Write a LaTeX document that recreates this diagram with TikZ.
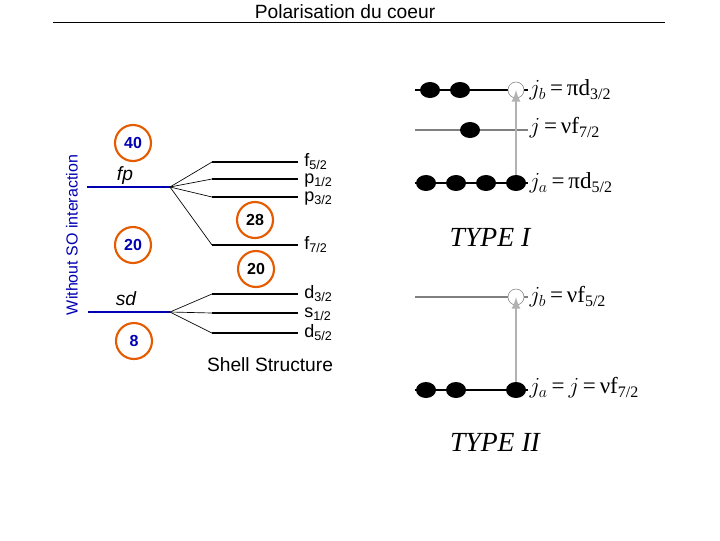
\documentclass[tikz,border=0pt]{standalone}
\usetikzlibrary{shapes.geometric}
\usepackage{fontspec}
\setmainfont{Liberation Sans}
\newfontfamily\serifx{Liberation Serif}
\begin{document}
\begin{tikzpicture}[x=0.75pt,y=-0.75pt,
 magic/.style={circle,draw=orange!80!red!90!black,line width=1.6pt,minimum size=36pt*0.75,inner sep=0pt,font=\large},
 lev/.style={line width=2.2pt},
 fan/.style={line width=0.5pt},
 blv/.style={blue!70!black,line width=2pt},
 lab/.style={anchor=west,font=\fontsize{13.5}{14}\selectfont,inner sep=0pt,text height=1.6ex,text depth=0.2ex},
 dot/.style={ellipse,fill=black,minimum width=15pt,minimum height=12pt,inner sep=0pt},
 hole/.style={circle,draw=gray,minimum size=12pt,inner sep=0pt},
 jl/.style={anchor=west,font=\serifx\LARGE,inner sep=1pt},
 arr/.style={gray!60,line width=2pt,-latex}]
\useasboundingbox (0,0) rectangle (720,540);
\node[font=\Large] (title) at (345,12) {Polarisation du coeur};
\draw[line width=0.5pt] (53,22) -- (665,22);
\node[rotate=90,text=blue!70!black,font=\large] (wso) at (72,235) {Without SO interaction};
% left levels
\coordinate (fpL) at (87,187); \coordinate (fpR) at (170,187);
\draw[blv] (fpL) -- (fpR);
\node[font=\Large\itshape] (fp) at (125,176) {fp};
\coordinate (sdL) at (88,312); \coordinate (sdR) at (170,312);
\draw[blv] (sdL) -- (sdR);
\node[font=\Large\itshape] (sd) at (126,299) {sd};
\node[magic,text=blue!70!black] (c40) at (133,143) {\textbf{40}};
\node[magic,text=blue!70!black] (c20l) at (133,245) {\textbf{20}};
\node[magic,text=blue!70!black] (c8) at (134,341) {\textbf{8}};
% right levels
\foreach \n/\y/\t in {f52/162/{f\textsubscript{5/2}},p12/179/{p\textsubscript{1/2}},p32/197/{p\textsubscript{3/2}},f72/245/{f\textsubscript{7/2}},d32/294/{d\textsubscript{3/2}},s12/313/{s\textsubscript{1/2}},d52/333/{d\textsubscript{5/2}}}{
 \coordinate (\n a) at (212,\y); \coordinate (\n b) at (298,\y);
 \draw[lev] (\n a) -- (\n b);
 \node[lab] (\n) at (304,\y) {\t};
}
\foreach \n in {f52,p12,p32,f72}{\draw[fan] (fpR) -- (\n a);}
\foreach \n in {d32,s12,d52}{\draw[fan] (sdR) -- (\n a);}
\node[magic,fill=white] (c28) at (255,220) {\textbf{28}};
\node[magic,fill=white] (c20r) at (256,269) {\textbf{20}};
\node[font=\Large] (shell) at (270,365) {Shell Structure};
% TYPE I
\coordinate (a1) at (415,90); \coordinate (b1) at (528,90);
\draw[line width=1pt] (a1) -- (b1);
\coordinate (a2) at (415,130); \coordinate (b2) at (528,130);
\draw[gray,line width=1.5pt] (a2) -- (b2);
\coordinate (a3) at (415,183); \coordinate (b3) at (528,183);
\draw[line width=1pt] (a3) -- (b3);
\node[dot] (t1) at (430,90) {}; \node[dot] (t2) at (460,90) {};
\node[hole,fill=white] (h1) at (516,90) {};
\node[dot] (m1) at (470,130) {};
\node[dot] (u1) at (426,183) {}; \node[dot] (u2) at (456,183) {};
\node[dot] (u3) at (486,183) {}; \node[dot] (u4) at (516,183) {};
\draw[arr] (u4) -- (h1.center);
\node[jl] (jb1) at (528,90) {$j_b$\,=\,πd\textsubscript{3/2}};
\node[jl] (j1) at (528,128) {$j$\,=\,νf\textsubscript{7/2}};
\node[jl] (ja1) at (528,183) {$j_a$\,=\,πd\textsubscript{5/2}};
\node[font=\serifx\itshape\huge] (typeI) at (490,237) {TYPE I};
% TYPE II
\coordinate (a4) at (415,297); \coordinate (b4) at (528,297);
\draw[gray,line width=1.5pt] (a4) -- (b4);
\coordinate (a5) at (415,390); \coordinate (b5) at (528,390);
\draw[line width=1pt] (a5) -- (b5);
\node[hole,fill=white] (h2) at (516,297) {};
\node[dot] (v1) at (426,390) {}; \node[dot] (v2) at (456,390) {};
\node[dot] (v3) at (516,390) {};
\draw[arr] (v3) -- (h2.center);
\node[jl] (jb2) at (528,297) {$j_b$\,=\,νf\textsubscript{5/2}};
\node[jl] (ja2) at (528,388) {$j_a$\,=\,$j$\,=\,νf\textsubscript{7/2}};
\node[font=\serifx\itshape\huge] (typeII) at (495,442) {TYPE II};
\end{tikzpicture}
\end{document}
